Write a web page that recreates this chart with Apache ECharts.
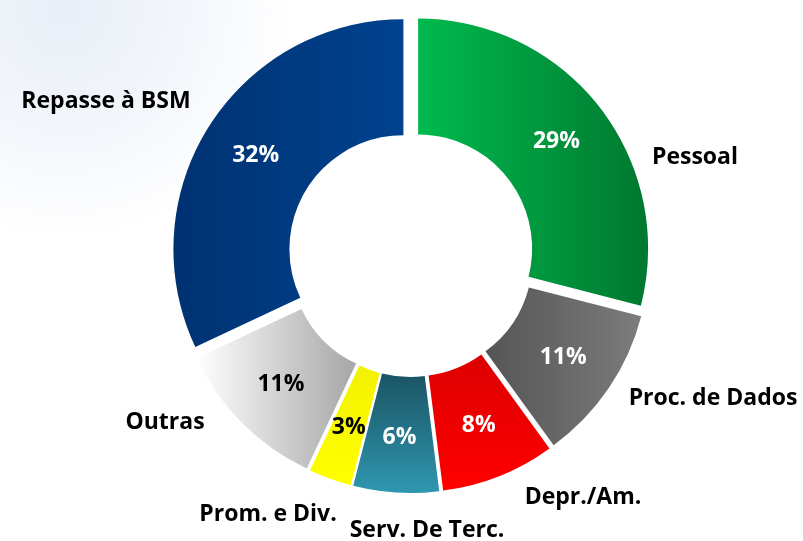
<!DOCTYPE html>
<html lang="pt">
<head>
    <meta charset="UTF-8">
    <title>Despesas</title>
    <style>
        html, body { margin: 0; padding: 0; background: #fff; }
        #chart { width: 803px; height: 541px; }
    </style>
    <script src="https://cdn.jsdelivr.net/npm/echarts@6/dist/echarts.min.js"></script>
</head>
<body>
    <div id="chart"></div>
    <script>
        // dados (percentuais), na ordem do gráfico a partir das 12h, sentido horário
        var categorias = ['Pessoal', 'Proc. de Dados', 'Depr./Am.', 'Serv. De Terc.', 'Prom. e Div.', 'Outras', 'Repasse à BSM'];
        var valores = [29, 11, 8, 6, 3, 11, 32];

        // cores das fatias (gradientes)
        function grad(x, y, x2, y2, c1, c2) {
            return new echarts.graphic.LinearGradient(x, y, x2, y2, [
                { offset: 0, color: c1 }, { offset: 1, color: c2 }
            ]);
        }
        var cores = [
            grad(0, 0, 1, 0, '#00ba4e', '#007830'),
            grad(0, 0, 1, 0, '#555555', '#7c7c7c'),
            grad(0, 0, 0, 1, '#dd0000', '#ff0000'),
            grad(0, 0, 0, 1, '#1a5463', '#2f97b0'),
            grad(0, 0, 0, 1, '#f2f200', '#ffff00'),
            grad(0, 0, 1, 0, '#ffffff', '#a6a6a6'),
            grad(0, 0, 1, 0, '#003272', '#00428e')
        ];
        var corTexto = ['#fff', '#fff', '#fff', '#fff', '#000', '#000', '#fff'];

        // posição dos rótulos externos (como no original)
        var posRotulos = [[695, 157], [713, 398], [583, 497], [427, 530], [268, 514], [165, 422], [106, 101]];

        var fonte = '"Open Sans", sans-serif';

        var dados = categorias.map(function (c, i) {
            return {
                name: c,
                value: valores[i],
                selected: true,
                itemStyle: { color: cores[i] },
                label: { color: corTexto[i] }
            };
        });

        var myChart = echarts.init(document.getElementById('chart'));
        var option = {
            animation: false,
            backgroundColor: {
                type: 'radial', x: 0.08, y: 0.02, r: 0.42,
                colorStops: [
                    { offset: 0, color: '#e9eff7' },
                    { offset: 0.55, color: '#f3f6fb' },
                    { offset: 1, color: '#ffffff' }
                ]
            },
            series: [
                {
                    type: 'pie',
                    center: [411, 254],
                    radius: [114, 230],
                    startAngle: 90,
                    clockwise: true,
                    selectedMode: 'multiple',
                    selectedOffset: 9,
                    silent: true,
                    label: {
                        position: 'inside',
                        formatter: '{c}%',
                        fontFamily: fonte,
                        fontWeight: 'bold',
                        fontSize: 23
                    },
                    labelLine: { show: false },
                    data: dados
                },
                {
                    type: 'pie',
                    center: [411, 254],
                    radius: [114, 230],
                    startAngle: 90,
                    silent: true,
                    itemStyle: { color: 'rgba(0,0,0,0)' },
                    label: {
                        position: 'outside',
                        formatter: '{b}',
                        color: '#000',
                        fontFamily: fonte,
                        fontWeight: 'bold',
                        fontSize: 23,
                        overflow: 'none'
                    },
                    labelLine: { show: false },
                    labelLayout: function (p) {
                        var pos = posRotulos[p.dataIndex];
                        return { x: pos[0], y: pos[1], align: 'center', verticalAlign: 'middle', hideOverlap: false };
                    },
                    data: categorias.map(function (c, i) { return { name: c, value: valores[i] }; })
                }
            ]
        };
        myChart.setOption(option);
    </script>
</body>
</html>
